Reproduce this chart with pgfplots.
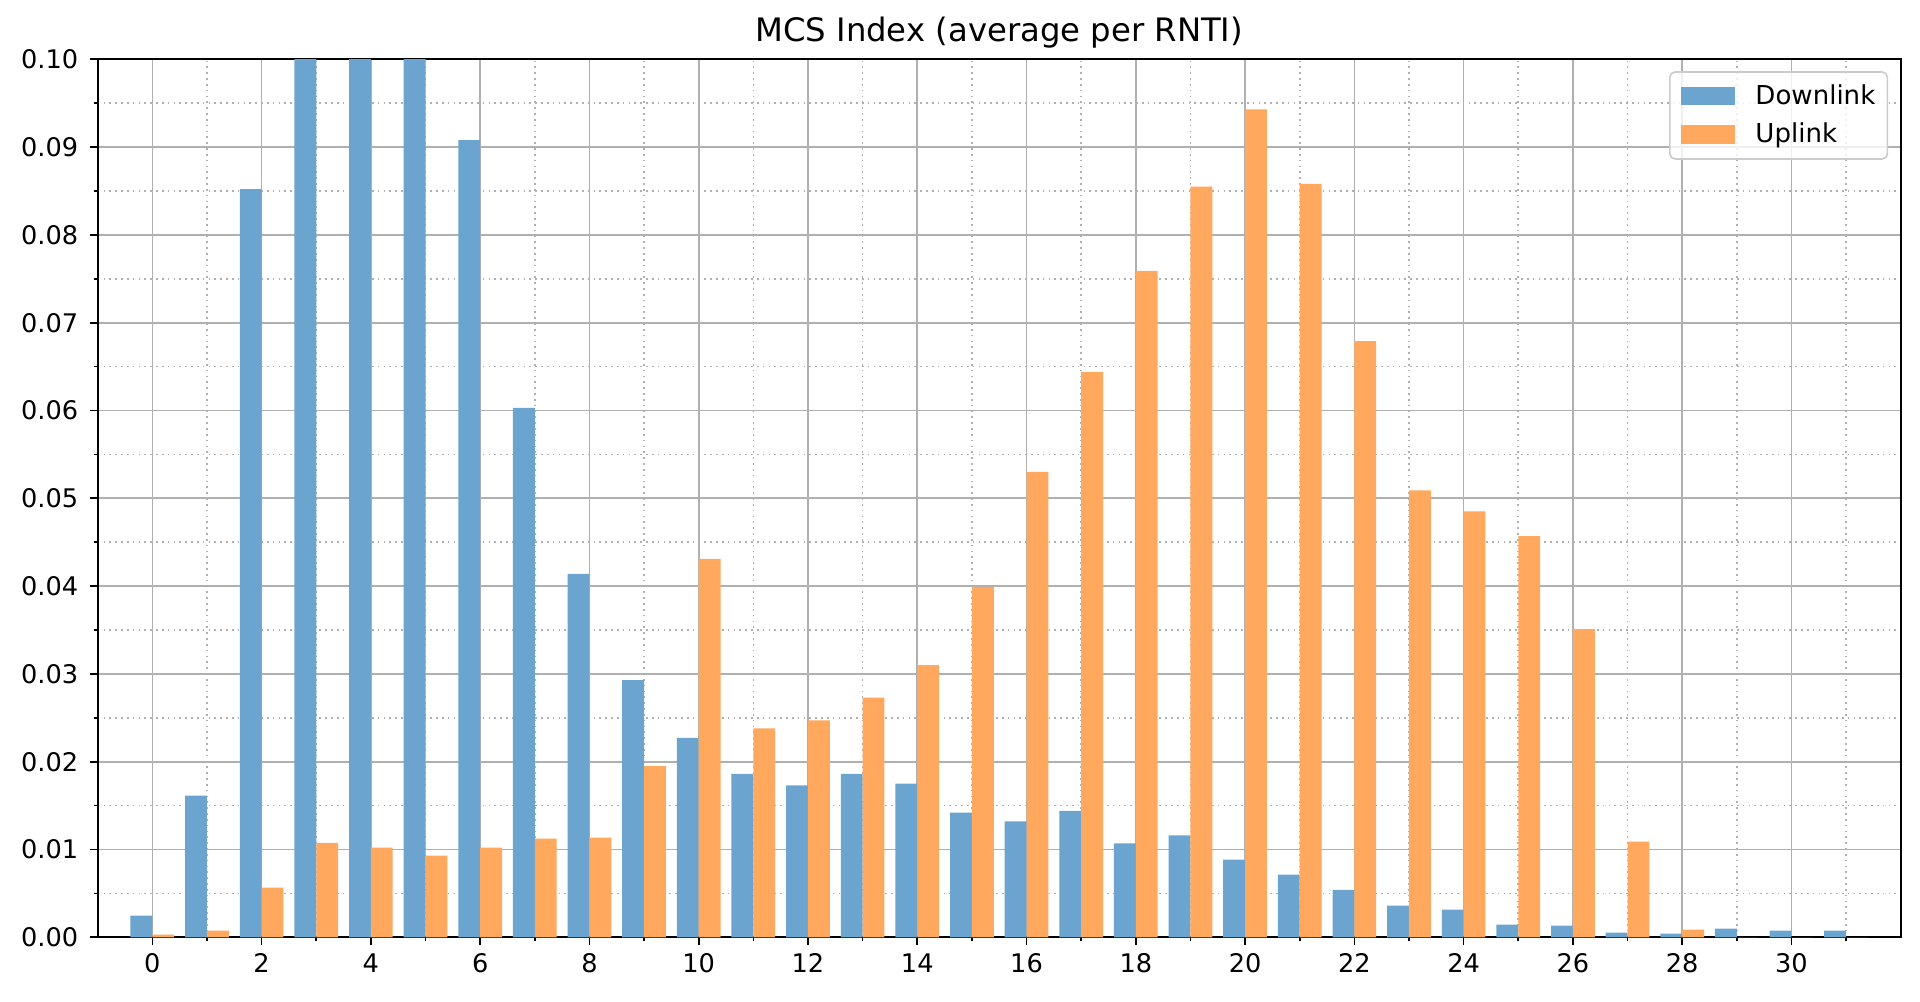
\documentclass[border=0pt]{standalone}
\usepackage{pgfplots}
\pgfplotsset{compat=1.18}
\usepackage{fontspec}
\setmainfont{DejaVu Sans}
\definecolor{dlblue}{RGB}{107,165,207}
\definecolor{ulorange}{RGB}{255,168,94}
\definecolor{gridgray}{RGB}{176,176,176}
\begin{document}
\fontsize{12.5}{15}\selectfont
\begin{tikzpicture}
\useasboundingbox (-46.9pt,-31.06pt) rectangle (874.7pt,449.9pt);
\begin{axis}[
  scale only axis,
  width=865.44pt, height=421.44pt,
  xmin=-1, xmax=32, ymin=0, ymax=0.1,
  ybar, bar width=0.4,
  xtick={0,2,...,30},
  minor xtick={1,3,...,31},
  ytick={0,0.01,0.02,0.03,0.04,0.05,0.06,0.07,0.08,0.09,0.1},
  minor ytick={0.005,0.015,0.025,0.035,0.045,0.055,0.065,0.075,0.085,0.095},
  xtick pos=bottom, ytick pos=left,
  scaled y ticks=false,
  yticklabel style={xshift=-1.5pt, /pgf/number format/.cd,fixed,fixed zerofill,precision=2,assume math mode=true},
  xticklabel style={/pgf/number format/assume math mode=true},
  tick label style={font=\fontsize{12.3}{14}\selectfont},
  tick align=outside,
  major tick length=3.5pt, minor tick length=2pt,
  every tick/.style={black, line width=0.8pt},
  axis line style={line width=0.8pt},
  grid=both,
  major grid style={gridgray, line width=0.8pt},
  minor grid style={gridgray, line width=0.8pt, dotted},
  title={MCS Index (average per RNTI)},
  title style={font=\fontsize{15.5}{18}\selectfont, at={(0.5,1)}, anchor=base, yshift=2.5pt},
  legend style={at={(rel axis cs:1,1)}, xshift=-6pt, yshift=-5.7pt, anchor=north east,
    draw=gray!40, line width=0.8pt, rounded corners=2.5pt, fill=white, fill opacity=0.8, text opacity=1,
    font=\fontsize{12.5}{15}\selectfont, row sep=3pt, column sep=9.5pt, inner xsep=5.3pt, inner ysep=4pt,
    nodes={inner xsep=0.5pt}},
  legend cell align=left,
]
\addplot[fill=dlblue, draw=none, bar shift=-0.2,
  legend image code/.code={\fill[dlblue,sharp corners,fill opacity=1] (0pt,-4.4pt) rectangle (25.8pt,4.4pt);}]
coordinates {
(0,0.00247) (1,0.01614) (2,0.0852) (3,0.12) (4,0.13) (5,0.115) (6,0.0908)
(7,0.0603) (8,0.0414) (9,0.0293) (10,0.0227) (11,0.0186) (12,0.0173)
(13,0.0186) (14,0.0175) (15,0.0142) (16,0.0132) (17,0.0144) (18,0.0107)
(19,0.0116) (20,0.00885) (21,0.00714) (22,0.0054) (23,0.0036) (24,0.00316)
(25,0.00145) (26,0.00133) (27,0.00054) (28,0.00042) (29,0.00099) (30,0.00076) (31,0.00076)
};
\addlegendentry{Downlink}
\addplot[fill=ulorange, draw=none, bar shift=0.2,
  legend image code/.code={\fill[ulorange,sharp corners,fill opacity=1] (0pt,-4.4pt) rectangle (25.8pt,4.4pt);}]
coordinates {
(0,0.0003) (1,0.00076) (2,0.00566) (3,0.01075) (4,0.0102) (5,0.0093) (6,0.0102)
(7,0.01124) (8,0.01135) (9,0.0195) (10,0.0431) (11,0.0238) (12,0.0247)
(13,0.0273) (14,0.0310) (15,0.0399) (16,0.0530) (17,0.0644) (18,0.0759)
(19,0.0855) (20,0.0943) (21,0.0858) (22,0.0679) (23,0.0509) (24,0.0485)
(25,0.0457) (26,0.0351) (27,0.0109) (28,0.00088) (29,0) (30,0) (31,0)
};
\addlegendentry{Uplink}
\end{axis}
\end{tikzpicture}
\end{document}
